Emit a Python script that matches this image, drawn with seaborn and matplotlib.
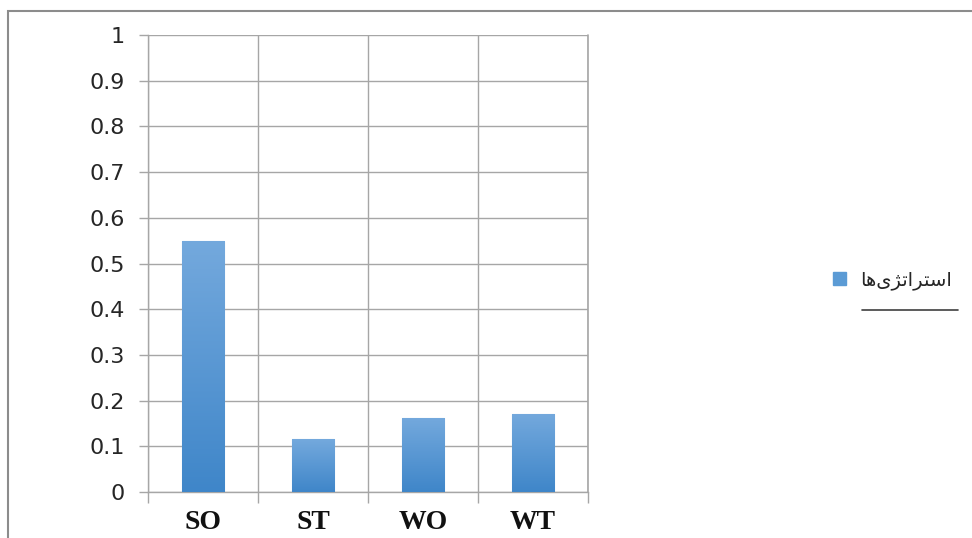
import numpy as np
import matplotlib
matplotlib.use("Agg")
import matplotlib.pyplot as plt
import seaborn as sns
from matplotlib.patches import Patch, Rectangle
from matplotlib.lines import Line2D
from matplotlib.colors import LinearSegmentedColormap

sns.set_theme(style="white")
plt.rcParams['font.family'] = ['DejaVu Sans']

categories = ["SO", "ST", "WO", "WT"]
values = [0.55, 0.115, 0.163, 0.171]
y_ticks = [0, 0.1, 0.2, 0.3, 0.4, 0.5, 0.6, 0.7, 0.8, 0.9, 1]
y_labels = ["0", "0.1", "0.2", "0.3", "0.4", "0.5", "0.6", "0.7", "0.8", "0.9", "1"]
# "استراتژی‌ها" written with Arabic presentation forms in visual order (no shaping engine in matplotlib)
legend_label = "\uFE8E\uFEEB\uFBFC\uFB8B\uFE97\uFE8D\uFEAE\uFE98\uFEB3\uFE8D"

grid_c = "#a6a6a6"
top_c = "#74a9dd"
bot_c = "#3f86c9"

fig = plt.figure(figsize=(9.72, 5.38), dpi=100)
ax = fig.add_axes([148 / 972, 1 - 492 / 538, 440 / 972, 457 / 538])

sns.barplot(x=categories, y=values, width=0.39, color=bot_c, ax=ax, saturation=1)

# vertical gradient on each bar, like the original
cmap = LinearSegmentedColormap.from_list("g", [bot_c, top_c])
grad = np.linspace(0, 1, 256).reshape(-1, 1)
for p in ax.patches:
    x0, y0 = p.get_x(), p.get_y()
    w, h = p.get_width(), p.get_height()
    im = ax.imshow(grad, cmap=cmap, origin="lower", aspect="auto",
                   extent=[x0, x0 + w, y0, y0 + h], zorder=3)
    im.set_clip_path(p)
    p.set_edgecolor("#9cc3ea")
    p.set_linewidth(0.8)

ax.set_xlim(-0.5, 3.5)
ax.set_ylim(0, 1)
ax.set_yticks(y_ticks)
ax.set_yticklabels(y_labels, fontsize=16, color="#262626")
ax.set_xticks(range(len(categories)))
ax.set_xticklabels(categories, fontsize=20, fontweight="bold",
                   family="Liberation Serif", color="#111111")
ax.set_xticks([-0.5, 0.5, 1.5, 2.5, 3.5], minor=True)
ax.tick_params(axis="x", which="major", length=0, pad=13)
ax.tick_params(axis="x", which="minor", length=8, width=1, color=grid_c, direction="out", bottom=True)
ax.tick_params(axis="y", length=6.5, width=1, color=grid_c, direction="out", left=True, pad=10)
ax.set_xlabel("")
ax.set_ylabel("")

ax.grid(axis="y", color=grid_c, linewidth=1)
ax.grid(axis="x", which="minor", color=grid_c, linewidth=1)
ax.set_axisbelow(True)
for s in ["top", "right"]:
    ax.spines[s].set_visible(False)
for s in ["left", "bottom"]:
    ax.spines[s].set_color(grid_c)
    ax.spines[s].set_linewidth(1)
ax.axvline(3.5, color=grid_c, linewidth=1.2, clip_on=False, zorder=0)

# legend
handle = Patch(facecolor="#5b9bd5", edgecolor="#5b9bd5")
leg = fig.legend(handles=[handle], labels=[legend_label], loc="center left",
                 bbox_to_anchor=(815 / 972, 1 - 280 / 538), frameon=False,
                 handlelength=0.7, handleheight=0.7, handletextpad=0.7,
                 prop={"family": "DejaVu Sans", "size": 14})
fig.add_artist(Line2D([862 / 972, 958 / 972], [1 - 310 / 538] * 2,
                      color="#404040", linewidth=1.2, transform=fig.transFigure))

# outer chart border
fig.add_artist(Rectangle((8 / 972, -0.2), 1.2, 1.2 - 11 / 538,
                         transform=fig.transFigure, fill=False,
                         edgecolor="#8c8c8c", linewidth=1.5))

fig.savefig("out.png", dpi=100)
